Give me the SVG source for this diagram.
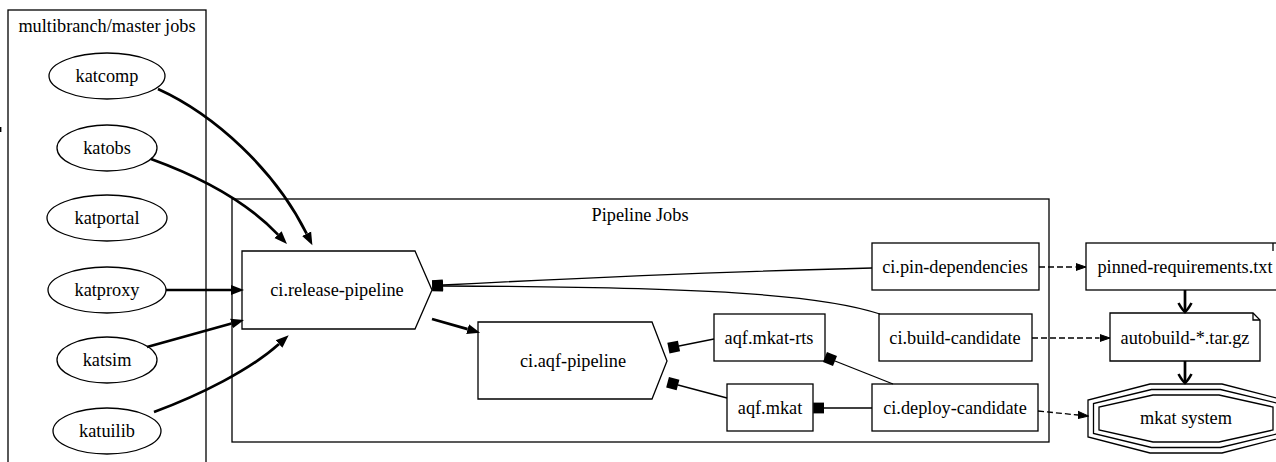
<svg xmlns="http://www.w3.org/2000/svg" width="1276" height="462" viewBox="0 0 1276 462">
<style>
text{font-family:"Liberation Serif","Times New Roman",serif;font-size:18.3px;fill:#000;text-anchor:middle}
.cl{fill:none;stroke:#000;stroke-width:1.3}
.nd{fill:#fff;stroke:#000;stroke-width:1.3}
.e{fill:none;stroke:#000;stroke-width:1.3}
.et{fill:none;stroke:#000;stroke-width:2.7}
.ed{fill:none;stroke:#000;stroke-width:1.3;stroke-dasharray:6,3}
</style>
<defs>
<marker id="ah" markerUnits="userSpaceOnUse" viewBox="0 -7 14 14" markerWidth="14" markerHeight="14" refX="0" refY="0" orient="auto"><path d="M0,-5 L13,0 L0,5 z" fill="#000"/></marker>
<marker id="ahs" markerUnits="userSpaceOnUse" viewBox="0 -5 11 10" markerWidth="11" markerHeight="10" refX="0" refY="0" orient="auto"><path d="M0,-3.6 L10.5,0 L0,3.6 z" fill="#000" stroke="#000" stroke-width="1"/></marker>
<marker id="box" markerUnits="userSpaceOnUse" viewBox="-1 -7 14 14" markerWidth="14" markerHeight="14" refX="0" refY="0" orient="auto"><rect x="0" y="-5.4" width="10.8" height="10.8" fill="#000"/></marker>
<marker id="vee" markerUnits="userSpaceOnUse" viewBox="-12 -8 14 16" markerWidth="14" markerHeight="16" refX="0" refY="0" orient="auto"><path d="M-9,-6.5 Q-2.5,-3 0,0 Q-2.5,3 -9,6.5" fill="none" stroke="#000" stroke-width="2.6"/></marker>
</defs>
<rect width="1276" height="462" fill="#fff"/>
<line x1="0.7" y1="127" x2="0.7" y2="132" stroke="#000" stroke-width="1.4"/>
<g id="cluster_multibranch">
<rect class="cl" x="8" y="10" width="198" height="470"/>
<text x="107" y="32">multibranch/master jobs</text>
</g>
<g id="cluster_pipeline">
<rect class="cl" x="232" y="199" width="817" height="243"/>
<text x="640" y="221">Pipeline Jobs</text>
</g>
<g id="katcomp"><ellipse class="nd" cx="107" cy="76" rx="58" ry="23"/><text x="107" y="82">katcomp</text></g>
<g id="katobs"><ellipse class="nd" cx="107" cy="148" rx="50" ry="23"/><text x="107" y="154">katobs</text></g>
<g id="katportal"><ellipse class="nd" cx="107" cy="218" rx="60" ry="23"/><text x="107" y="224">katportal</text></g>
<g id="katproxy"><ellipse class="nd" cx="107" cy="290" rx="59" ry="23"/><text x="107" y="296">katproxy</text></g>
<g id="katsim"><ellipse class="nd" cx="107" cy="360" rx="50" ry="23"/><text x="107" y="366">katsim</text></g>
<g id="katuilib"><ellipse class="nd" cx="107" cy="431" rx="54" ry="23"/><text x="107" y="437">katuilib</text></g>
<g id="ci.release-pipeline"><polygon class="nd" points="242,251 415,251 432,290 415,329 242,329"/><text x="337" y="296">ci.release-pipeline</text></g>
<g id="ci.aqf-pipeline"><polygon class="nd" points="478,322 652,322 667,361 652,399 478,399"/><text x="573" y="367">ci.aqf-pipeline</text></g>
<g id="ci.pin-dependencies"><rect class="nd" x="872" y="243" width="167" height="47"/><text x="955" y="273">ci.pin-dependencies</text></g>
<g id="ci.build-candidate"><rect class="nd" x="879" y="314" width="153" height="47"/><text x="955" y="344">ci.build-candidate</text></g>
<g id="aqf.mkat-rts"><rect class="nd" x="714" y="314" width="111" height="47"/><text x="769" y="344">aqf.mkat-rts</text></g>
<g id="aqf.mkat"><rect class="nd" x="727" y="384" width="86" height="47"/><text x="770" y="414">aqf.mkat</text></g>
<g id="ci.deploy-candidate"><rect class="nd" x="872" y="384" width="166" height="47"/><text x="955" y="414">ci.deploy-candidate</text></g>
<g id="pinned-requirements.txt"><rect class="nd" x="1086" y="243" width="198" height="47"/><line x1="1273" y1="243" x2="1273" y2="251" stroke="#000" stroke-width="1.3"/><text x="1185" y="273">pinned-requirements.txt</text></g>
<g id="autobuild"><polygon class="nd" points="1110,313 1253,313 1260,320 1260,361 1110,361"/><polyline class="e" points="1253,313 1253,320 1260,320"/><text x="1185" y="344">autobuild-*.tar.gz</text></g>
<g id="mkat_system">
<polygon class="nd" points="1150,384 1222,384 1284,400 1284,437 1222,453 1150,453 1088,437 1088,400"/>
<polygon class="nd" points="1151.5,389.5 1220.5,389.5 1278.5,403.5 1278.5,433.5 1220.5,447.5 1151.5,447.5 1093.5,433.5 1093.5,403.5"/>
<polygon class="nd" points="1153,395 1219,395 1273,407 1273,430 1219,442 1153,442 1099,430 1099,407"/>
<text x="1186" y="424">mkat system</text>
</g>
<g id="connectors">
<path class="et" d="M158,89 C215,115 275,170 306.6,233.7" marker-end="url(#ah)"/>
<path class="et" d="M151,159 C195,175 245,200 278,234.6" marker-end="url(#ah)"/>
<path class="et" d="M166,290 L231,290" marker-end="url(#ah)"/>
<path class="et" d="M147,347 L231.5,323.5" marker-end="url(#ah)"/>
<path class="et" d="M154,412 C200,395 250,370 279,344" marker-end="url(#ah)"/>
<path class="et" d="M432,319 L467.6,329.1" marker-end="url(#ah)"/>
<path class="e" d="M872,268 C700,272 560,279 443,285" marker-end="url(#box)"/>
<path class="e" d="M880,314 C820,294 700,287 443,286" marker-end="url(#box)"/>
<path class="e" d="M714,339 L679,346" marker-end="url(#box)"/>
<path class="e" d="M727,398 L678,385" marker-end="url(#box)"/>
<path class="e" d="M893,384 L835,361" marker-end="url(#box)"/>
<path class="e" d="M872,408 L824,408" marker-end="url(#box)"/>
<path class="ed" d="M1039,267 L1075.5,267" marker-end="url(#ahs)"/>
<path class="ed" d="M1032,338 L1099.5,338" marker-end="url(#ahs)"/>
<path class="ed" d="M1038,411 L1078,415" marker-end="url(#ahs)"/>
<path class="et" d="M1185,290 L1185,312" marker-end="url(#vee)"/>
<path class="et" d="M1185,361 L1185,383" marker-end="url(#vee)"/>
</g>
</svg>
